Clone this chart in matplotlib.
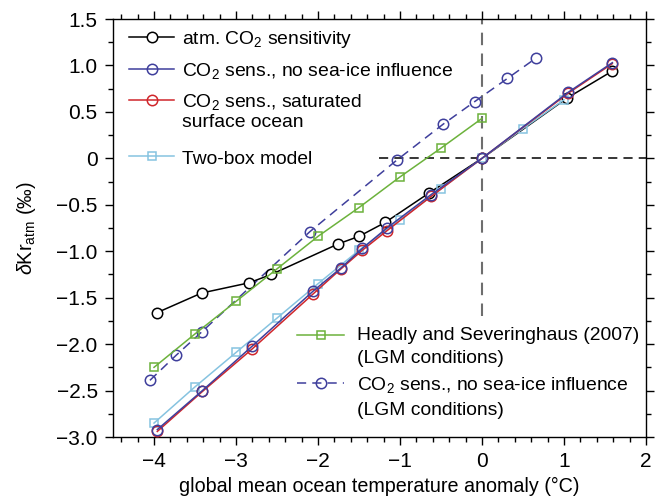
import matplotlib
matplotlib.use('Agg')
import matplotlib.pyplot as plt
from matplotlib.ticker import MultipleLocator, FixedLocator, FixedFormatter

plt.rcParams['font.family'] = ['Liberation Sans', 'DejaVu Sans']
plt.rcParams['mathtext.fontset'] = 'custom'
plt.rcParams['mathtext.rm'] = 'Liberation Sans'
plt.rcParams['mathtext.it'] = 'Liberation Sans:italic'

# atm. CO2 sensitivity
x_atm = [-3.96, -3.42, -2.84, -2.57, -1.75, -1.50, -1.18, -0.64, 0.0, 1.04, 1.59]
y_atm = [-1.66, -1.45, -1.34, -1.25, -0.92, -0.84, -0.69, -0.37, 0.0, 0.65, 0.94]

# CO2 sens., no sea-ice influence
x_noice = [-3.96, -3.41, -2.80, -2.06, -1.72, -1.46, -1.16, -0.62, 0.0, 1.05, 1.59]
y_noice = [-2.92, -2.50, -2.02, -1.43, -1.18, -0.97, -0.75, -0.39, 0.0, 0.71, 1.03]

# CO2 sens., saturated surface ocean
x_sat = [-3.96, -3.41, -2.80, -2.06, -1.72, -1.46, -1.16, -0.62, 0.0, 1.05, 1.59]
y_sat = [-2.94, -2.51, -2.05, -1.46, -1.19, -0.99, -0.78, -0.41, 0.0, 0.70, 1.02]

# Two-box model
x_box = [-4.0, -3.5, -3.0, -2.5, -2.0, -1.5, -1.0, -0.5, 0.0, 0.5, 1.0]
y_box = [-2.85, -2.46, -2.09, -1.72, -1.35, -0.99, -0.66, -0.33, 0.0, 0.32, 0.63]

# Headly and Severinghaus (2007), LGM
x_hs = [-4.0, -3.5, -3.0, -2.5, -2.0, -1.5, -1.0, -0.5, 0.0]
y_hs = [-2.25, -1.89, -1.54, -1.19, -0.84, -0.53, -0.20, 0.11, 0.43]

# CO2 sens., no sea-ice influence, LGM
x_lgm = [-4.05, -3.73, -3.42, -2.10, -1.04, -0.47, -0.09, 0.31, 0.66]
y_lgm = [-2.39, -2.12, -1.87, -0.79, -0.02, 0.37, 0.61, 0.86, 1.08]

x_ticks = [-4, -3, -2, -1, 0, 1, 2]
x_ticklabels = ['\u22124', '\u22123', '\u22122', '\u22121', '0', '1', '2']
y_ticks = [1.5, 1.0, 0.5, 0, -0.5, -1.0, -1.5, -2.0, -2.5, -3.0]
y_ticklabels = ['1.5', '1.0', '0.5', '0', '\u22120.5', '\u22121.0', '\u22121.5',
                '\u22122.0', '\u22122.5', '\u22123.0']

c_black = '#000000'
c_blue = '#3f3f9c'
c_red = '#d0262b'
c_lblue = '#86c3e0'
c_green = '#6cb23c'

fig = plt.figure(figsize=(6.59, 5.03), dpi=100)
ax = fig.add_axes([0.1715, 0.1312, 0.8087, 0.8310])

# reference lines
ax.plot([0, 0], [-1.7, 1.5], color='#6e6e6e', lw=1.5, dashes=(6, 4), zorder=1)
ax.plot([-1.25, 2], [0, 0], color='black', lw=1.1, dashes=(6, 4), zorder=1)

ms_c = 7.5
ms_s = 6.3
lw = 1.1
mew = 1.1

l_atm, = ax.plot(x_atm, y_atm, '-o', color=c_black, lw=lw, ms=ms_c, mew=mew,
                 mfc='white', zorder=3)
l_sat, = ax.plot(x_sat, y_sat, '-o', color=c_red, lw=lw, ms=ms_c, mew=mew,
                 mfc='none', zorder=4)
l_noice, = ax.plot(x_noice, y_noice, '-o', color=c_blue, lw=lw, ms=ms_c, mew=mew,
                   mfc='none', zorder=5)
l_box, = ax.plot(x_box, y_box, '-s', color=c_lblue, lw=lw, ms=ms_s, mew=mew,
                 mfc='none', zorder=3)
l_hs, = ax.plot(x_hs, y_hs, '-s', color=c_green, lw=lw, ms=ms_s, mew=mew,
                mfc='none', zorder=3)
l_lgm, = ax.plot(x_lgm, y_lgm, 'o', color=c_blue, ls=(0, (6, 4)), lw=lw, ms=ms_c,
                 mew=mew, mfc='none', zorder=2)

ax.set_xlim(-4.5, 2)
ax.set_ylim(-3.0, 1.5)

ax.xaxis.set_major_locator(FixedLocator(x_ticks))
ax.xaxis.set_major_formatter(FixedFormatter(x_ticklabels))
ax.xaxis.set_minor_locator(MultipleLocator(0.2))
ax.yaxis.set_major_locator(FixedLocator(y_ticks))
ax.yaxis.set_major_formatter(FixedFormatter(y_ticklabels))
ax.yaxis.set_minor_locator(MultipleLocator(0.25))

ax.tick_params(which='both', direction='out', top=True, right=True, width=1.0,
               labelsize=15, colors='black')
ax.tick_params(which='major', length=6, pad=5)
ax.tick_params(which='minor', length=3.5)
for s in ax.spines.values():
    s.set_linewidth(1.0)

ax.set_xlabel('global mean ocean temperature anomaly (\u00b0C)', fontsize=14.2, labelpad=4)
ax.set_ylabel('$\\delta$Kr$_{\\rm atm}$ (\u2030)', fontsize=14.2)
ax.yaxis.set_label_coords(-0.141, 0.5)


def handle_on_first_line(leg):
    # put each legend handle next to the first line of its label
    for col in leg._legend_handle_box.get_children():
        for row in col.get_children():
            row.align = 'top'


leg_kw = dict(loc='upper left', frameon=False, fontsize=13.9, handleheight=1.1,
              borderpad=0, borderaxespad=0, numpoints=1)

leg1 = ax.legend([l_atm, l_noice, l_sat],
                 ['atm. CO$_2$ sensitivity', 'CO$_2$ sens., no sea-ice influence',
                  'CO$_2$ sens., saturated\nsurface ocean'],
                 bbox_to_anchor=(0.03, 0.975), handlelength=2.35, handletextpad=0.4,
                 labelspacing=0.55, **leg_kw)
for t in leg1.get_texts():
    t.set_linespacing(1.15)
handle_on_first_line(leg1)
ax.add_artist(leg1)

leg1b = ax.legend([l_box], ['Two-box model'],
                  bbox_to_anchor=(0.03, 0.692), handlelength=2.35, handletextpad=0.4,
                  **leg_kw)
ax.add_artist(leg1b)

leg2 = ax.legend([l_hs, l_lgm],
                 ['Headly and Severinghaus (2007)\n(LGM conditions)',
                  'CO$_2$ sens., no sea-ice influence\n(LGM conditions)'],
                 bbox_to_anchor=(0.345, 0.264), handlelength=2.45, handletextpad=0.65,
                 labelspacing=0.42, **leg_kw)
for t in leg2.get_texts():
    t.set_linespacing(1.5)
handle_on_first_line(leg2)

fig.savefig('out.png', dpi=100)
